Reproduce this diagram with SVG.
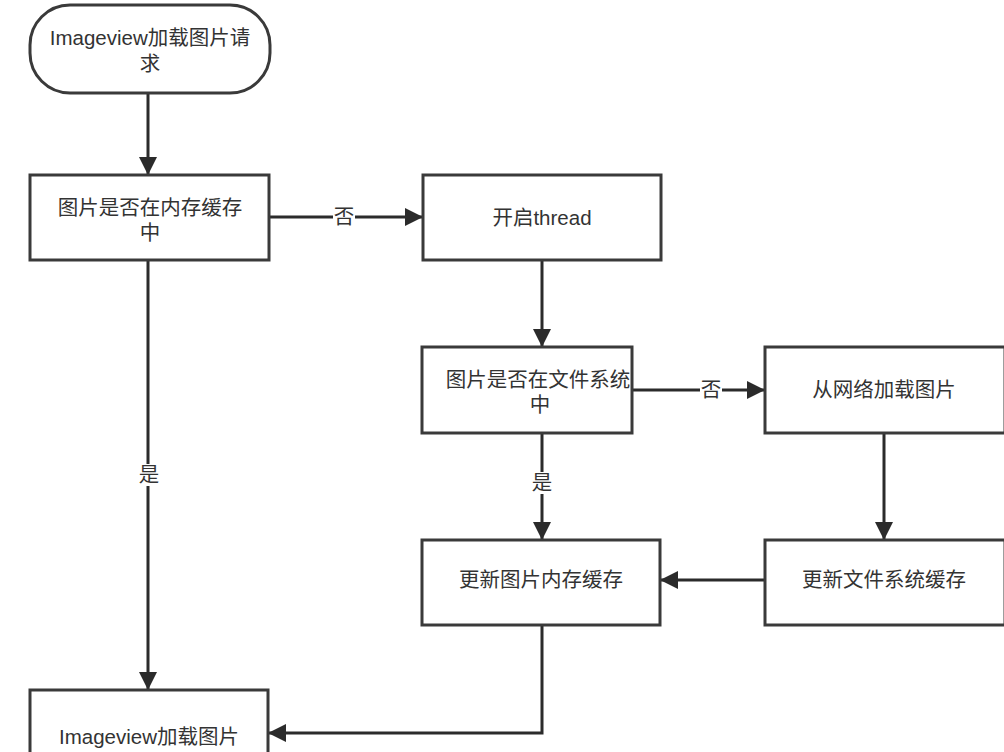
<svg xmlns="http://www.w3.org/2000/svg" width="1004" height="752" viewBox="0 0 1004 752">
<defs>
<style>
.box{fill:#fff;stroke:#3a3a3a;stroke-width:3}
.ln{fill:none;stroke:#2b2b2b;stroke-width:3}
.t{font-family:"Liberation Sans","Noto Sans CJK SC",sans-serif;font-size:20.5px;fill:#333;text-anchor:middle}
.lbg{fill:#fff}
</style>
<marker id="ah" viewBox="0 0 10 10" refX="10" refY="5" markerWidth="6" markerHeight="6" markerUnits="strokeWidth" orient="auto">
<path d="M0,0 L10,5 L0,10 z" fill="#2b2b2b"/>
</marker>
</defs>
<rect width="1004" height="752" fill="#fff"/>
<g id="connectors">
<path class="ln" d="M148,93 V175" marker-end="url(#ah)"/>
<path class="ln" d="M270,217 H423" marker-end="url(#ah)"/>
<path class="ln" d="M148,260 V690" marker-end="url(#ah)"/>
<path class="ln" d="M542,260 V347" marker-end="url(#ah)"/>
<path class="ln" d="M632,390 H765" marker-end="url(#ah)"/>
<path class="ln" d="M542,433 V540" marker-end="url(#ah)"/>
<path class="ln" d="M884,433 V540" marker-end="url(#ah)"/>
<path class="ln" d="M765,580 H660" marker-end="url(#ah)"/>
<path class="ln" d="M542,625 V733 H268" marker-end="url(#ah)"/>
<rect class="lbg" x="333" y="206" width="22" height="22"/>
<text class="t" x="344" y="224">否</text>
<rect class="lbg" x="700" y="379" width="22" height="22"/>
<text class="t" x="711" y="397">否</text>
<rect class="lbg" x="138" y="464" width="22" height="22"/>
<text class="t" x="149" y="482">是</text>
<rect class="lbg" x="531" y="472" width="22" height="22"/>
<text class="t" x="542" y="490">是</text>
</g>
<g id="start">
<rect class="box" x="30" y="5" width="240" height="88" rx="40" ry="40"/>
<text class="t" x="150" y="45">Imageview加载图片请</text>
<text class="t" x="150" y="71">求</text>
</g>
<g id="memcheck">
<rect class="box" x="30" y="175" width="239" height="85"/>
<text class="t" x="150" y="215">图片是否在内存缓存</text>
<text class="t" x="150" y="240">中</text>
</g>
<g id="thread">
<rect class="box" x="423" y="175" width="238" height="85"/>
<text class="t" x="542" y="225">开启thread</text>
</g>
<g id="filecheck">
<rect class="box" x="422" y="347" width="210" height="86"/>
<text class="t" x="538" y="387">图片是否在文件系统</text>
<text class="t" x="540" y="412">中</text>
</g>
<g id="network">
<rect class="box" x="765" y="347" width="240" height="86"/>
<text class="t" x="884" y="397">从网络加载图片</text>
</g>
<g id="updmem">
<rect class="box" x="422" y="540" width="238" height="85"/>
<text class="t" x="541" y="587">更新图片内存缓存</text>
</g>
<g id="updfile">
<rect class="box" x="765" y="540" width="240" height="85"/>
<text class="t" x="884" y="587">更新文件系统缓存</text>
</g>
<g id="load">
<rect class="box" x="30" y="690" width="238" height="80"/>
<text class="t" x="149" y="744">Imageview加载图片</text>
</g>
</svg>
